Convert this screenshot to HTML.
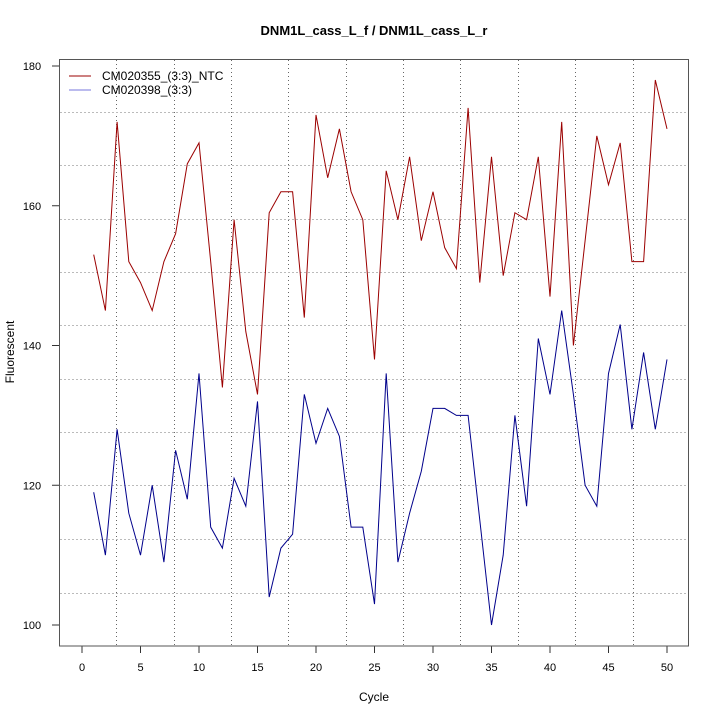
<!DOCTYPE html>
<html><head><meta charset="utf-8"><style>body{margin:0;background:#fff}svg{display:block;font-family:"Liberation Sans",sans-serif}</style></head>
<body>
<svg id="s" width="720" height="720" xmlns="http://www.w3.org/2000/svg">
<rect width="720" height="720" fill="#fff"/>
<text x="374" y="35" font-size="13" font-weight="bold" text-anchor="middle">DNM1L_cass_L_f / DNM1L_cass_L_r</text>
<text x="374" y="701" font-size="12" text-anchor="middle">Cycle</text>
<text transform="translate(14,352) rotate(-90)" font-size="12" text-anchor="middle">Fluorescent</text>
<g id="gridv" stroke="#666" stroke-dasharray="1,3" stroke-width="1"></g>
<g id="gridh" stroke="#bbb" stroke-dasharray="2,2" stroke-width="1"></g>
<g id="ax" stroke="#333" stroke-width="1" fill="none"></g>
<g id="lab" font-size="11" text-anchor="middle"></g>
<polyline id="r" fill="none" stroke="#9b0000" stroke-width="1"/>
<polyline id="b" fill="none" stroke="#00008b" stroke-width="1"/>
<line x1="69" y1="76" x2="91" y2="76" stroke="#9b0000"/>
<line x1="69" y1="90" x2="91" y2="90" stroke="#7777dd"/>
<text x="102" y="80" font-size="12">CM020355_(3:3)_NTC</text>
<text x="102" y="94" font-size="12">CM020398_(3:3)</text>
<rect x="59.5" y="59.5" width="629" height="586.5" fill="none" stroke="#555"/>
</svg>
<script>
const X=c=>82+11.7*c, Y=v=>66+(180-v)*6.9875;
const R=[153,145,172,152,149,145,152,156,166,169,152,134,158,142,133,159,162,162,144,173,164,171,162,158,138,165,158,167,155,162,154,151,174,149,167,150,159,158,167,147,172,140,155,170,163,169,152,152,178,171];
const B=[119,110,128,116,110,120,109,125,118,136,114,111,121,117,132,104,111,113,133,126,131,127,114,114,103,136,109,116,122,131,131,130,130,115,100,110,130,117,141,133,145,133,120,117,136,143,128,139,128,138];
document.getElementById('r').setAttribute('points',R.map((v,i)=>X(i+1)+','+Y(v)).join(' '));
document.getElementById('b').setAttribute('points',B.map((v,i)=>X(i+1)+','+Y(v)).join(' '));
let g='',h='';
for(let k=0;k<10;k++){const x=Math.round(X(2.92+4.905*k))+0.5;g+=`<line x1="${x}" y1="60" x2="${x}" y2="646"/>`;}
for(const y of [112,165,219,272,325,379,432,485,539,593])h+=`<line x1="60" y1="${y+0.5}" x2="688" y2="${y+0.5}"/>`;
document.getElementById('gridv').innerHTML=g;
document.getElementById('gridh').innerHTML=h;
let a='',l='';
for(let c=0;c<=50;c+=5){const x=X(c);a+=`<line x1="${x}" y1="646" x2="${x}" y2="653"/>`;l+=`<text x="${x}" y="671">${c}</text>`;}
for(let v=100;v<=180;v+=20){const y=Y(v);a+=`<line x1="52" y1="${y}" x2="59" y2="${y}"/>`;l+=`<text x="32" y="${y+4}">${v}</text>`;}
document.getElementById('ax').innerHTML=a;
document.getElementById('lab').innerHTML=l;
</script>
</body></html>
